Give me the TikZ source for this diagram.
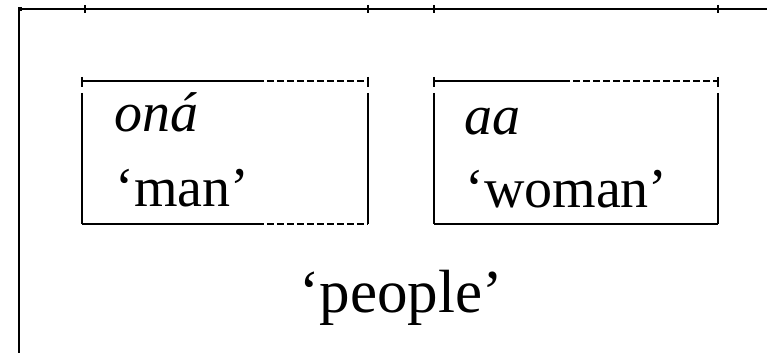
\documentclass[tikz,border=0pt]{standalone}
\usepackage{fontspec}
\setmainfont{Liberation Serif}
\usetikzlibrary{positioning}

\tikzset{
  frameline/.style={line width=1.3pt},
  boxline/.style={line width=0.9pt},
  dashline/.style={boxline, dash pattern=on 3.5pt off 1.5pt},
  edgetick/.style={line width=1.4pt},
  gloss/.style={inner sep=0pt, anchor=base west, font=\fontsize{28}{33}\selectfont},
}

\begin{document}
\begin{tikzpicture}[x=0.5pt, y=-0.5pt]
  \useasboundingbox (0,0) rectangle (767,353);

  % outer frame, cut off at right and bottom
  \coordinate (corner) at (19,9);
  \draw[frameline] (767,9) -| (19,353);
  \fill (corner) ++(-1.5,-1.5) rectangle ++(4,4);
  \foreach \x in {85,368,434,718}
    \draw[edgetick] (\x,5) -- (\x,13);

  % box for 'man'
  \coordinate (manNW) at (82,81);
  \coordinate (manSE) at (368,224);
  \coordinate (manMid) at (257,81);
  \draw[boxline] (manNW) -- (manMid);
  \draw[dashline] (manMid) -- (manSE |- manNW);
  \draw[boxline] (82,224) -- (257,224);
  \draw[dashline] (257,224) -- (manSE);
  \draw[edgetick] (82,77) -- (82,87);
  \draw[edgetick] (368,77) -- (368,87);
  \draw[boxline] (82,93) -- (82,224);
  \draw[boxline] (368,93) -- (manSE);

  % box for 'woman'
  \coordinate (womNW) at (434,81);
  \coordinate (womSE) at (718,224);
  \coordinate (womMid) at (563,81);
  \draw[boxline] (womNW) -- (womMid);
  \draw[dashline] (womMid) -- (womSE |- womNW);
  \draw[boxline] (434,224) -- (womSE);
  \draw[edgetick] (434,77) -- (434,87);
  \draw[edgetick] (718,77) -- (718,87);
  \draw[boxline] (434,93) -- (434,224);
  \draw[boxline] (718,93) -- (womSE);

  % words
  \node[gloss] (ona) at (114,132) {\textit{oná}};
  \node[gloss] (man) at (115,206) {‘man’};
  \node[gloss] (aa) at (464,135) {\textit{aa}};
  \node[gloss] (woman) at (465,208) {‘woman’};
  \node[gloss, anchor=base, font=\fontsize{30.5}{36}\selectfont] (people) at (401,313) {‘people’};
\end{tikzpicture}
\end{document}
